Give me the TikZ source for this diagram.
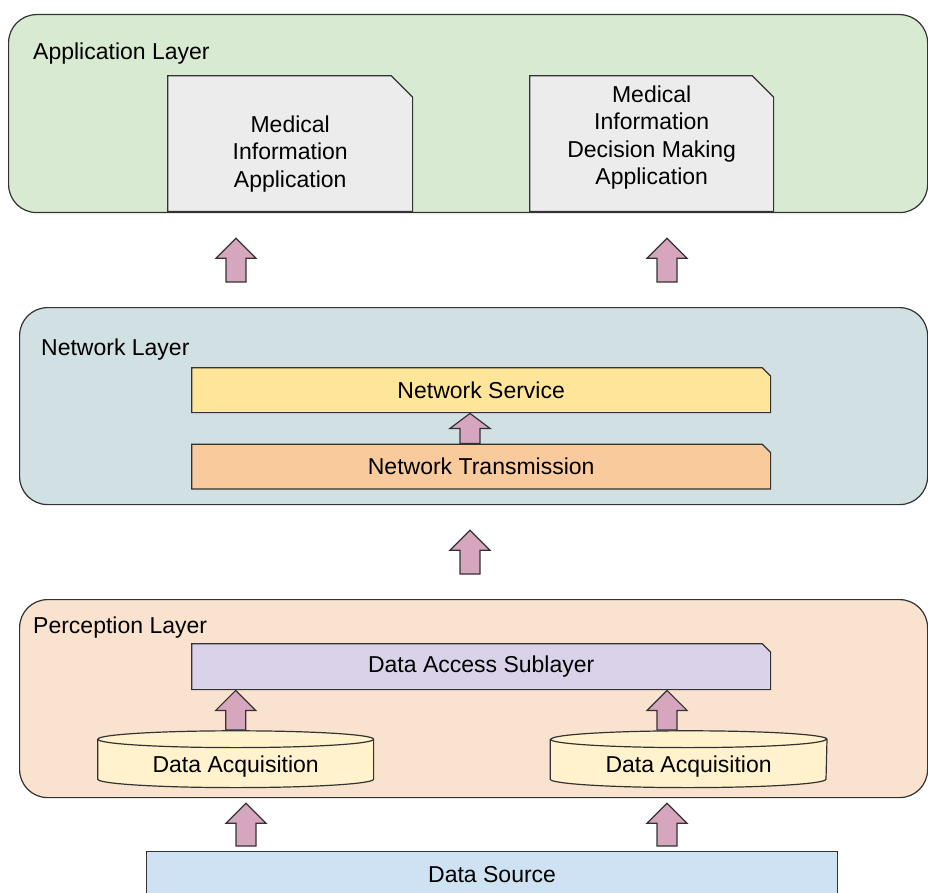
\documentclass[tikz,border=0pt]{standalone}
\usepackage{fontspec}
\setmainfont{Liberation Sans}
\usetikzlibrary{
  positioning,
  calc
}
\definecolor{appgreen}{RGB}{217,234,211}
\definecolor{netblue}{RGB}{208,224,227}
\definecolor{percpeach}{RGB}{250,227,206}
\definecolor{svcyellow}{RGB}{255,229,153}
\definecolor{transorange}{RGB}{249,203,156}
\definecolor{accesspurple}{RGB}{217,210,233}
\definecolor{canyellow}{RGB}{255,242,204}
\definecolor{srcblue}{RGB}{207,226,243}
\definecolor{docgray}{RGB}{236,236,236}
\definecolor{arrowpink}{RGB}{213,166,189}
\definecolor{edgegray}{RGB}{51,51,51}
\newcommand{\lbl}{\fontsize{23}{27.5}\selectfont}
\tikzset{
  panel/.style={
    draw=edgegray,
    line width=1.2pt,
    rounded corners=28pt,
    anchor=north west,
    inner sep=0pt
  },
  layertitle/.style={anchor=base west,inner sep=0pt,font=\lbl},
  cutfill/.store in=\cutfill,
  cutfill=white,
  cutlen/.store in=\cutlen,
  cutlen=9pt,
  cutbox/.style={
    anchor=north west,
    inner sep=0pt,
    align=center,
    font=\lbl,
    path picture={
      \path[fill=\cutfill,draw=edgegray,line width=1.2pt]
        ([shift={(0.6pt,0.6pt)}]path picture bounding box.south west)
        -- ([shift={(0.6pt,-0.6pt)}]path picture bounding box.north west)
        -- ([shift={(-\cutlen,-0.6pt)}]path picture bounding box.north east)
        -- ([shift={(-0.6pt,-\cutlen)}]path picture bounding box.north east)
        -- ([shift={(-0.6pt,0.6pt)}]path picture bounding box.south east)
        -- cycle;
    }
  },
  docbox/.style={cutbox,cutfill=docgray,cutlen=22pt,
    minimum width=246pt,minimum height=137pt},
  canbox/.style={
    anchor=north west,
    minimum width=277pt,
    minimum height=58pt,
    inner sep=0pt,
    path picture={
      \path[fill=canyellow,draw=edgegray,line width=1.2pt]
        ([shift={(0.6pt,-9pt)}]path picture bounding box.north west)
        -- ([shift={(0.6pt,9pt)}]path picture bounding box.south west)
        arc[start angle=180,end angle=360,x radius=137.9pt,y radius=8.4pt]
        -- ([shift={(-0.6pt,-9pt)}]path picture bounding box.north east)
        arc[start angle=0,end angle=180,x radius=137.9pt,y radius=8.4pt]
        -- cycle
        ([shift={(0.6pt,-9pt)}]path picture bounding box.north west)
        arc[start angle=180,end angle=360,x radius=137.9pt,y radius=8.4pt];
    }
  },
  headlen/.store in=\headlen,
  headlen=20pt,
  blockup/.style={
    fill=arrowpink,
    draw=edgegray,
    line width=1.2pt,
    to path={let \p1=(\tikztostart), \p2=(\tikztotarget) in
      (\x1-10pt,\y1+#1) -- (\x1-10pt,\y2-#1-\headlen) -- (\x1-20pt,\y2-#1-\headlen)
      -- (\x1,\y2-#1) -- (\x1+20pt,\y2-#1-\headlen) -- (\x1+10pt,\y2-#1-\headlen)
      -- (\x1+10pt,\y1+#1) -- cycle}
  },
  blockup/.default=0pt
}

\begin{document}
\begin{tikzpicture}[x=1pt,y=-1pt]
  \useasboundingbox[fill=white] (0,0) rectangle (928,893);
  % layers
  \node[panel,fill=appgreen,minimum width=919pt,minimum height=198pt] (app) at (8,14) {};
  \node[panel,fill=netblue,minimum width=908pt,minimum height=197pt] (net) at (19,307) {};
  \node[panel,fill=percpeach,minimum width=908pt,minimum height=198pt] (perc) at (19,599) {};
  \node[layertitle] (apptitle) at (33,60) {Application Layer};
  \node[layertitle] (nettitle) at (41,355) {Network Layer};
  \node[layertitle] (perctitle) at (33,633) {Perception Layer};

  % application layer
  \node[docbox,label={[font=\lbl,align=center,yshift=-10pt]center:Medical\\Information\\Application}] (medapp) at (167,75) {};
  \node[docbox,minimum width=245pt,label={[font=\lbl,align=center,yshift=6pt]center:Medical\\Information\\Decision Making\\Application}] (decapp) at (529,75) {};

  % network layer
  \node[cutbox,cutfill=svcyellow,minimum width=580pt,minimum height=46pt] (service) at (191,367) {Network Service};
  \node[cutbox,cutfill=transorange,minimum width=580pt,minimum height=46pt,below=30pt of service] (trans) {Network Transmission};

  % perception layer
  \node[cutbox,cutfill=accesspurple,minimum width=580pt,minimum height=47pt] (access) at (191,643) {Data Access Sublayer};
  \node[canbox,label={[font=\lbl,yshift=-7pt]center:Data Acquisition}] (cylL) at (97,730) {};
  \node[canbox,minimum width=278pt,right=175pt of cylL,label={[font=\lbl,yshift=-7pt]center:Data Acquisition}] (cylR) {};

  \node[draw=edgegray,line width=1.2pt,fill=srcblue,anchor=north west,inner sep=0pt,
    minimum width=691pt,minimum height=46pt,font=\lbl] (source) at (146,851) {Data Source};

  % arrows
  \coordinate (colL) at (236,0);
  \coordinate (colR) at (667,0);
  \coordinate (colM) at (470,0);
  \coordinate (colB) at (246,0);
  \draw[blockup=25pt] (colL |- net.north) to (colL |- app.south);
  \draw[blockup=25pt] (colR |- net.north) to (colR |- app.south);
  \draw[headlen=15pt,blockup] (colM |- trans.north) to (colM |- service.south);
  \draw[blockup=25pt] (colM |- perc.north) to (colM |- net.south);
  \draw[blockup] (cylL.north) to (cylL.north |- access.south);
  \draw[blockup] (colR |- cylR.north) to (colR |- access.south);
  \draw[blockup=5pt] (colB |- source.north) to (colB |- perc.south);
  \draw[blockup=5pt] (colR |- source.north) to (colR |- perc.south);
\end{tikzpicture}
\end{document}
